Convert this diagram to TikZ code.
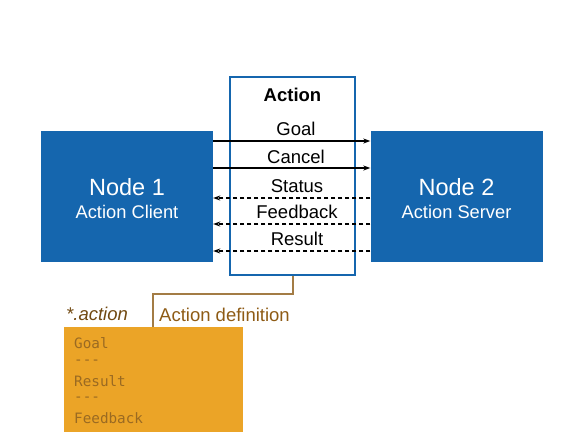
\documentclass[tikz,border=0pt]{standalone}
\usepackage{fontspec}
\setmainfont{Liberation Sans}
\newfontfamily\monof{DejaVu Sans Mono}
\usetikzlibrary{arrows.meta,calc}
\definecolor{rosblue}{HTML}{1566AE}
\definecolor{deforange}{HTML}{EBA427}
\definecolor{defbrown}{HTML}{8E5B15}
\definecolor{deftext}{HTML}{9A6A22}
\definecolor{linebrown}{HTML}{A37C45}
\tikzset{
  rosnode/.style={fill=rosblue,draw=none,minimum width=172pt,minimum height=131pt,inner sep=0pt},
  nodetitle/.style={text=white,inner sep=0pt,font=\fontsize{23.5}{26}\selectfont},
  nodesub/.style={text=white,inner sep=0pt,font=\fontsize{18.3}{21}\selectfont},
  actbox/.style={draw=rosblue,line width=2pt,fill=white,minimum width=125pt,minimum height=198pt,inner sep=0pt},
  lbl/.style={font=\fontsize{18.5}{21}\selectfont,inner sep=0pt},
  req/.style={-{Stealth[length=7pt,width=5pt]},line width=1.1pt},
  fb/.style={-{Stealth[length=7pt,width=5pt]},line width=1.1pt,dash pattern=on 4pt off 3pt},
  code/.style={font=\monof\fontsize{14.3}{18}\selectfont,text=deftext,inner sep=0pt,anchor=west},
}
\begin{document}
\begin{tikzpicture}[x=1pt,y=-1pt]
\useasboundingbox (0,0) rectangle (575,445);
\node[actbox] (act) at (292.5,176) {};
\node[rosnode] (n1) at (127,196.5) {};
\node[rosnode] (n2) at (456.5,196.5) {};
\node[nodetitle] (n1t) at (127,187) {Node 1};
\node[nodesub] (n1s) at (127,212) {Action Client};
\node[nodetitle] (n2t) at (456.5,187) {Node 2};
\node[nodesub] (n2s) at (456.5,212) {Action Server};
\node[lbl,font=\bfseries\fontsize{18.5}{21}\selectfont] (tact) at (292.5,95) {Action};
\node[lbl] (tgoal) at (296,129) {Goal};
\node[lbl] (tcancel) at (296,157) {Cancel};
\node[lbl] (tstatus) at (297,186) {Status};
\node[lbl] (tfeed) at (297,212) {Feedback};
\node[lbl] (tres) at (297,239) {Result};
\coordinate (ygoal) at (0,141);
\coordinate (ycancel) at (0,168);
\coordinate (ystatus) at (0,198);
\coordinate (yfeed) at (0,224);
\coordinate (yres) at (0,251);
\draw[req] (n1.east |- ygoal) -- (n2.west |- ygoal);
\draw[req] (n1.east |- ycancel) -- (n2.west |- ycancel);
\draw[fb] (n2.west |- ystatus) -- (n1.east |- ystatus);
\draw[fb] (n2.west |- yfeed) -- (n1.east |- yfeed);
\draw[fb] (n2.west |- yres) -- (n1.east |- yres);
\node[fill=deforange,minimum width=179pt,minimum height=105pt,inner sep=0pt] (def) at (153.5,379.5) {};
\node[inner sep=0pt,anchor=west,text=defbrown!80!black,font=\itshape\fontsize{18.5}{21}\selectfont] (tstar) at (66,314) {*.action};
\node[inner sep=0pt,anchor=west,text=defbrown,font=\fontsize{18.5}{21}\selectfont] (tdef) at (159,315) {Action definition};
\coordinate (kx) at (293,0);
\coordinate (kb) at (153,294);
\draw[linebrown,line width=1.5pt] (act.south -| kx) |- (kb) -- (def.north -| kb);
\node[code] (c1) at (74,343) {Goal};
\node[code] (c2) at (74,362) {---};
\node[code] (c3) at (74,381) {Result};
\node[code] (c4) at (74,399) {---};
\node[code] (c5) at (74,418) {Feedback};
\end{tikzpicture}
\end{document}
